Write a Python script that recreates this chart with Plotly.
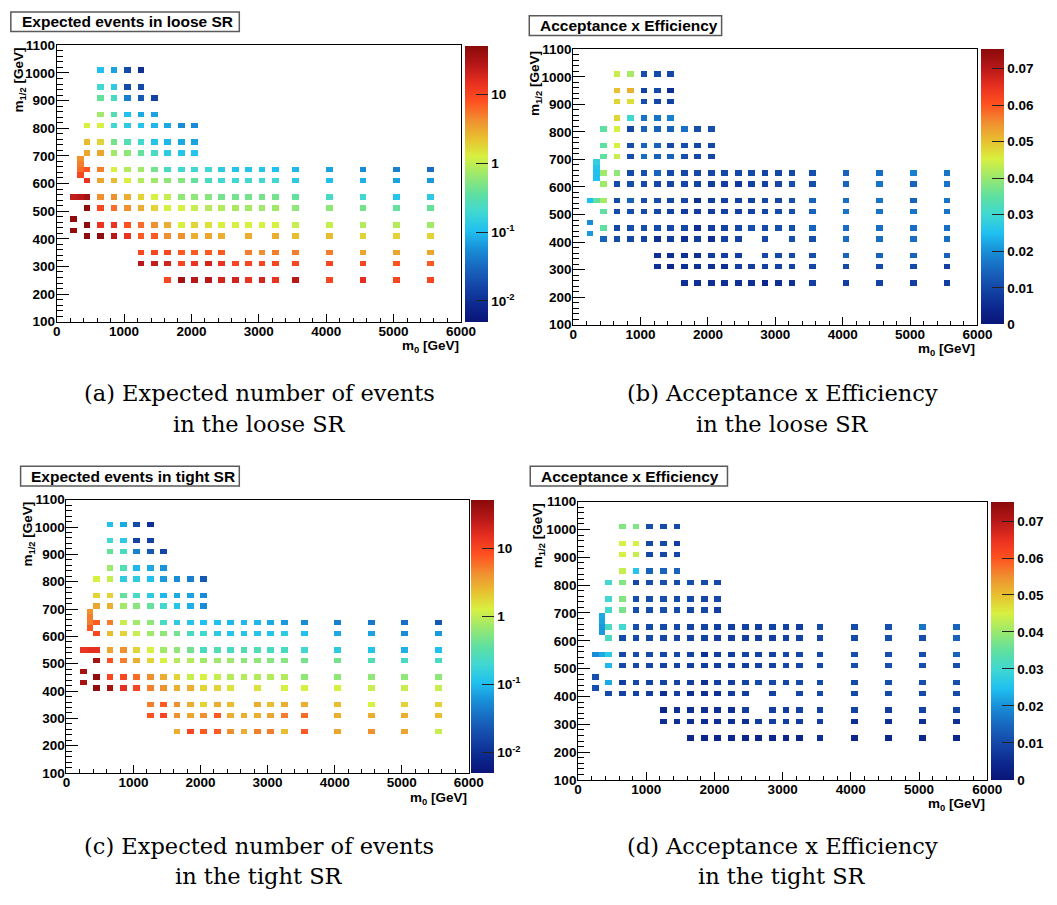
import math
import plotly.graph_objects as go

W, H = 1057, 905
_ = None

# bin centres of the populated cells (GeV)
M0_CENTERS = [250, 350, 450, 650, 850, 1050, 1250, 1450, 1650, 1850, 2050,
              2250, 2450, 2650, 2850, 3050, 3250, 3550, 4050, 4550, 5050, 5550]
M12_CENTERS = [1010, 950, 910, 850, 810, 750, 710, 690, 670, 650, 630, 610,
               550, 510, 470, 450, 430, 410, 350, 310, 250]
M0_BIN, M12_BIN = 100, 20


def pad(vals):
    return vals + [None] * (len(M0_CENTERS) - len(vals))


loose_events = [
    pad([_, _, _, 0.105, 0.073, 0.018, 0.0105]),
    pad([_, _, _, 0.20, 0.139, 0.018, 0.018]),
    pad([_, _, _, 0.385, 0.24, 0.046, 0.024, 0.015]),
    pad([_, _, _, 0.73, 0.29, 0.105, 0.08, 0.073]),
    pad([_, _, 1.28, 1.28, 0.20, 0.139, 0.116, 0.096, 0.08, 0.055, 0.055]),
    pad([_, _, 2.44, 1.84, 0.46, 0.29, 0.20, 0.116, 0.096, 0.08, 0.073]),
    pad([_, _, 3.2, 3.2, 0.73, 0.61, 0.385, 0.24, 0.139, 0.116, 0.116]),
    pad([_, 4.2]),
    pad([_, 5.1]),
    [_, 6.1, 8.1, 5.1, 1.28, 0.88, 0.73, 0.46, 0.24, 0.20, 0.20, 0.20, 0.139, 0.116, 0.116, 0.116, 0.105, 0.096, 0.073, 0.055, 0.046, 0.035],
    pad([_, 9.7]),
    [_, _, 14, 3.2, 2.4, 1.28, 0.88, 0.73, 0.61, 0.56, 0.385, 0.24, 0.20, 0.20, 0.20, 0.20, 0.20, 0.139, 0.105, 0.088, 0.073, 0.066],
    [24, 27, 35, 4.2, 4.2, 2.9, 1.84, 1.28, 1.06, 0.61, 0.61, 0.56, 0.46, 0.46, 0.46, 0.46, 0.46, 0.385, 0.24, 0.20, 0.116, 0.139],
    [_, _, 47, 9.7, 6.1, 4.2, 2.9, 1.84, 1.28, 1.28, 1.06, 0.88, 0.88, 0.80, 0.73, 0.73, 0.73, 0.61, 0.61, 0.46, 0.385, 0.385],
    pad([47]),
    [_, _, 47, 14, 14, 8.1, 6.1, 4.2, 2.9, 1.28, 1.84, 1.54, 1.28, 1.28, 1.28, 1.28, 1.28, 1.06, 1.06, 0.88, 0.88, 0.73],
    pad([47]),
    [_, _, 47, 47, 27, 14, 7.4, 7.4, 4.2, 4.2, 2.9, 3.2, 2.9, _, 2.9, _, 2.9, 2.4, 2.4, 1.84, 1.84, 1.84],
    [_, _, _, _, _, _, 9.7, 9.7, 9.7, 7.4, 7.4, 7.4, 7.4, _, 5.1, 4.2, 5.1, 5.1, 5.1, 3.2, 3.2, 3.2],
    [_, _, _, _, _, _, 27, 24, 20, 9.7, 14, 20, 14, 9.7, 9.7, 9.7, 9.7, 9.7, 9.7, 9.7, 8.1, 7.4],
    [_, _, _, _, _, _, _, _, 9.7, 35, 27, 27, 20, 20, 14, 20, 14, 27, 9.7, 15, 9.7, 9.7],
]

loose_acceff = [
    pad([_, _, _, 0.0436, 0.041, 0.011, 0.0105, 0.0098]),
    pad([_, _, _, 0.050, 0.0515, 0.009, 0.0105, 0.006]),
    pad([_, _, _, 0.048, 0.047, 0.011, 0.0098, 0.009]),
    pad([_, _, _, 0.048, 0.030, 0.0165, 0.0165, 0.018]),
    pad([_, _, 0.035, 0.045, 0.0098, 0.0143, 0.0143, 0.0143, 0.0158, 0.011, 0.011]),
    pad([_, _, 0.035, 0.045, 0.011, 0.0143, 0.0143, 0.0105, 0.011, 0.0098, 0.0098]),
    pad([_, _, 0.035, 0.0436, 0.011, 0.0158, 0.0143, 0.0143, 0.011, 0.0098, 0.0098]),
    pad([_, 0.028]),
    pad([_, 0.026]),
    [_, 0.025, 0.0406, 0.039, 0.0105, 0.011, 0.0143, 0.0105, 0.0098, 0.0098, 0.0098, 0.0098, 0.0098, 0.0098, 0.009, 0.0098, 0.0098, 0.011, 0.0143, 0.0158, 0.018, 0.0165],
    pad([_, 0.025]),
    [_, _, 0.0406, 0.0105, 0.011, 0.0105, 0.0098, 0.0098, 0.0098, 0.009, 0.0083, 0.0083, 0.0075, 0.009, 0.009, 0.0098, 0.011, 0.011, 0.0143, 0.0165, 0.0143, 0.0165],
    [0.0248, 0.035, 0.041, 0.0105, 0.0143, 0.011, 0.011, 0.0098, 0.0098, 0.006, 0.0083, 0.009, 0.009, 0.009, 0.0098, 0.0098, 0.011, 0.0143, 0.0158, 0.0165, 0.0143, 0.0165],
    [_, _, 0.035, 0.0105, 0.011, 0.0105, 0.0098, 0.009, 0.0083, 0.0083, 0.0083, 0.009, 0.009, 0.009, 0.0098, 0.0105, 0.011, 0.0143, 0.0165, 0.0165, 0.0165, 0.0165],
    pad([0.0195]),
    [_, _, 0.035, 0.0098, 0.011, 0.011, 0.0105, 0.0098, 0.0098, 0.006, 0.0083, 0.009, 0.0098, 0.011, 0.0105, 0.011, 0.011, 0.0143, 0.0158, 0.0158, 0.0158, 0.0158],
    pad([0.021]),
    [_, _, 0.0143, 0.0105, 0.0098, 0.009, 0.006, 0.0083, 0.006, 0.0083, 0.006, 0.009, 0.009, _, 0.0098, _, 0.011, 0.011, 0.0158, 0.0158, 0.0158, 0.0158],
    [_, _, _, _, _, _, 0.006, 0.006, 0.006, 0.006, 0.0083, 0.0083, 0.0083, _, 0.0098, 0.0105, 0.0105, 0.011, 0.0143, 0.0143, 0.0143, 0.0143],
    [_, _, _, _, _, _, 0.006, 0.004, 0.006, 0.006, 0.006, 0.006, 0.0083, 0.0083, 0.0083, 0.009, 0.009, 0.0098, 0.0105, 0.0105, 0.0105, 0.0083],
    [_, _, _, _, _, _, _, _, 0.006, 0.006, 0.006, 0.006, 0.006, 0.006, 0.004, 0.006, 0.006, 0.0083, 0.0083, 0.009, 0.0083, 0.0083],
]

tight_events = [
    pad([_, _, _, 0.105, 0.080, 0.018, 0.0105]),
    pad([_, _, _, 0.20, 0.139, 0.015, 0.015]),
    pad([_, _, _, 0.385, 0.24, 0.046, 0.024, 0.016]),
    pad([_, _, _, 0.73, 0.29, 0.096, 0.08, 0.06]),
    pad([_, _, 1.28, 1.06, 0.139, 0.139, 0.105, 0.066, 0.055, 0.046, 0.024]),
    pad([_, _, 1.84, 1.84, 0.385, 0.24, 0.139, 0.096, 0.08, 0.073, 0.055]),
    pad([_, _, 3.2, 2.9, 0.73, 0.56, 0.385, 0.20, 0.116, 0.088, 0.055]),
    pad([_, 4.2]),
    pad([_, 5.1]),
    [_, 5.1, 7.4, 5.1, 1.06, 0.73, 0.61, 0.24, 0.139, 0.116, 0.105, 0.105, 0.096, 0.096, 0.096, 0.080, 0.066, 0.055, 0.046, 0.040, 0.035, 0.024],
    pad([_, 7.4]),
    [_, _, 9.7, 2.4, 1.84, 1.06, 0.73, 0.61, 0.46, 0.24, 0.20, 0.139, 0.116, 0.116, 0.116, 0.116, 0.139, 0.105, 0.080, 0.073, 0.055, 0.066],
    [14, 15, 15, 3.2, 4.2, 1.84, 1.28, 0.73, 0.61, 0.46, 0.24, 0.29, 0.24, 0.29, 0.29, 0.24, 0.24, 0.20, 0.139, 0.116, 0.088, 0.105],
    [_, _, 35, 8.1, 5.1, 2.9, 1.84, 1.28, 0.88, 0.88, 0.73, 0.73, 0.73, 0.61, 0.61, 0.56, 0.56, 0.46, 0.46, 0.29, 0.24, 0.24],
    pad([35]),
    [_, _, 47, 9.7, 9.7, 6.1, 4.2, 2.9, 1.84, 1.06, 1.28, 1.06, 0.88, 0.88, 0.88, 0.88, 0.88, 0.61, 0.61, 0.61, 0.61, 0.61],
    pad([35]),
    [_, _, 47, 35, 15, 9.7, 5.1, 4.2, 2.9, 2.9, 1.84, 1.84, 1.54, _, 1.54, _, 1.28, 1.28, 1.28, 1.06, 1.06, 1.06],
    [_, _, _, _, _, _, 5.1, 7.4, 4.2, 2.9, 1.84, 2.9, 2.4, _, 2.9, 2.4, 2.9, 2.9, 2.4, 1.28, 1.84, 1.84],
    [_, _, _, _, _, _, 8.1, 9.7, 4.2, 3.2, 4.2, 7.4, 2.9, 2.9, 2.9, 3.2, 5.1, 6.1, 2.9, 2.9, 2.9, 2.4],
    [_, _, _, _, _, _, _, _, 2.9, 9.7, 7.4, 7.4, 4.2, 2.9, 5.1, 5.1, 2.4, 7.4, 3.2, 4.2, 3.2, 1.06],
]

tight_acceff = [
    pad([_, _, _, 0.038, 0.0376, 0.011, 0.0105, 0.0105]),
    pad([_, _, _, 0.045, 0.045, 0.0098, 0.0105, 0.0083]),
    pad([_, _, _, 0.045, 0.0436, 0.0098, 0.0098, 0.0098]),
    pad([_, _, _, 0.0436, 0.0256, 0.0143, 0.0143, 0.0143]),
    pad([_, _, 0.030, 0.038, 0.0098, 0.011, 0.011, 0.0105, 0.011, 0.0105, 0.0098]),
    pad([_, _, 0.030, 0.038, 0.011, 0.011, 0.011, 0.0105, 0.0105, 0.0098, 0.0098]),
    pad([_, _, 0.030, 0.037, 0.011, 0.011, 0.011, 0.0105, 0.0098, 0.0098, 0.0083]),
    pad([_, 0.0226]),
    pad([_, 0.022]),
    [_, 0.021, 0.0316, 0.030, 0.011, 0.0105, 0.0105, 0.0098, 0.009, 0.009, 0.0083, 0.0083, 0.009, 0.0083, 0.009, 0.009, 0.0083, 0.0105, 0.0105, 0.011, 0.0165, 0.0143],
    pad([_, 0.021]),
    [_, _, 0.0316, 0.0105, 0.0105, 0.0105, 0.0098, 0.0098, 0.009, 0.009, 0.0083, 0.0083, 0.0083, 0.0083, 0.0083, 0.009, 0.009, 0.0098, 0.0105, 0.011, 0.011, 0.0143],
    [0.0195, 0.0226, 0.027, 0.0098, 0.011, 0.0105, 0.0098, 0.0098, 0.009, 0.006, 0.0083, 0.0083, 0.009, 0.009, 0.009, 0.0098, 0.0098, 0.0105, 0.011, 0.011, 0.011, 0.0143],
    [_, _, 0.024, 0.0098, 0.0105, 0.0098, 0.009, 0.009, 0.0083, 0.0083, 0.0083, 0.0083, 0.0083, 0.009, 0.009, 0.0098, 0.0098, 0.0105, 0.011, 0.011, 0.011, 0.011],
    pad([0.011]),
    [_, _, 0.0226, 0.0083, 0.0098, 0.009, 0.009, 0.009, 0.0083, 0.006, 0.0083, 0.0083, 0.009, 0.0105, 0.0098, 0.0098, 0.0105, 0.0105, 0.0105, 0.011, 0.011, 0.011],
    pad([0.011]),
    [_, _, 0.0105, 0.009, 0.009, 0.0083, 0.006, 0.0083, 0.006, 0.006, 0.006, 0.0083, 0.0083, _, 0.009, _, 0.0098, 0.0105, 0.0105, 0.0105, 0.0105, 0.0105],
    [_, _, _, _, _, _, 0.004, 0.006, 0.006, 0.006, 0.006, 0.006, 0.0083, _, 0.0083, 0.0083, 0.009, 0.009, 0.009, 0.0083, 0.009, 0.009],
    [_, _, _, _, _, _, 0.006, 0.006, 0.006, 0.006, 0.006, 0.006, 0.006, 0.0083, 0.0083, 0.0083, 0.0083, 0.0083, 0.006, 0.006, 0.006, 0.006],
    [_, _, _, _, _, _, _, _, 0.004, 0.004, 0.004, 0.004, 0.004, 0.004, 0.004, 0.004, 0.004, 0.006, 0.004, 0.004, 0.004, 0.004],
]

LOG_TICKS = [0.01, 0.1, 1, 10]
LOG_TICK_TEXT = ['10<sup>-2</sup>', '10<sup>-1</sup>', '1', '10']
LIN_TICKS = [0, 0.01, 0.02, 0.03, 0.04, 0.05, 0.06, 0.07]
LIN_TICK_TEXT = ['0', '0.01', '0.02', '0.03', '0.04', '0.05', '0.06', '0.07']

# ROOT-like rainbow palette
PALETTE = [
    [0.0, '#0a1478'], [0.066, '#0c2a90'], [0.133, '#1448a8'], [0.2, '#1868c0'],
    [0.266, '#1890d8'], [0.33, '#20c0f0'], [0.4, '#40d8d0'], [0.465, '#60e0a0'],
    [0.53, '#98e870'], [0.6, '#d8f040'], [0.665, '#e8c030'], [0.73, '#f09030'],
    [0.8, '#ff5020'], [0.865, '#e83020'], [0.93, '#b81818'], [1.0, '#8a0a0a'],
]

LOG_RANGE = (-2.30, 1.71)
LIN_RANGE = (0.0, 0.0752)

panels = [
    dict(data=loose_events, log=True, frame=(54, 468, 39, 320), cb=(472, 495),
         box=(7, 241, 5, 25), title='Expected events in loose SR',
         ytx=16, xty=345, cap_x=262, cap_y=(393, 424),
         cap=('(a) Expected number of events', 'in the loose SR')),
    dict(data=loose_acceff, log=False, frame=(583, 997, 43, 323), cb=(1001, 1024),
         box=(538, 735, 9, 29), title='Acceptance x Efficiency',
         ytx=545, xty=348, cap_x=797, cap_y=(393, 424),
         cap=('(b) Acceptance x Efficiency', 'in the loose SR')),
    dict(data=tight_events, log=True, frame=(64, 476, 501, 779), cb=(478, 501),
         box=(17, 241, 467, 487), title='Expected events in tight SR',
         ytx=25, xty=805, cap_x=261, cap_y=(853, 884),
         cap=('(c) Expected number of events', 'in the tight SR')),
    dict(data=tight_acceff, log=False, frame=(588, 1007, 503, 786), cb=(1011, 1034),
         box=(539, 741, 467, 487), title='Acceptance x Efficiency',
         ytx=547, xty=811, cap_x=797, cap_y=(853, 884),
         cap=('(d) Acceptance x Efficiency', 'in the tight SR')),
]

BOLD = dict(family='Liberation Sans, Arial, sans-serif', color='black', weight='bold')


def font(size, **kw):
    d = dict(BOLD)
    d['size'] = size
    d.update(kw)
    return d


def px_x(v):
    return v / W


def px_y(v):
    return 1 - v / H


fig = go.Figure()
layout = dict(width=W, height=H, margin=dict(l=0, r=0, t=0, b=0),
              paper_bgcolor='white', plot_bgcolor='white', showlegend=False)
shapes, annotations = [], []

nx, ny = 6000 // M0_BIN, 1000 // M12_BIN
for i, p in enumerate(panels, start=1):
    sfx = '' if i == 1 else str(i)
    grid = [[None] * nx for _r in range(ny)]
    for yi, yc in enumerate(M12_CENTERS):
        row = p['data'][yi]
        assert len(row) == len(M0_CENTERS)
        for xi, xc in enumerate(M0_CENTERS):
            v = row[xi]
            if v is None:
                continue
            gx = int(xc // M0_BIN)
            gy = int((yc - 100) // M12_BIN)
            grid[gy][gx] = math.log10(v) if p['log'] else v

    l, r, t, b = p['frame']
    cl, cr = p['cb']
    if p['log']:
        zmin, zmax = LOG_RANGE
        tv = [math.log10(v) for v in LOG_TICKS]
        tt = LOG_TICK_TEXT
    else:
        zmin, zmax = LIN_RANGE
        tv, tt = LIN_TICKS, LIN_TICK_TEXT

    fig.add_trace(go.Heatmap(
        z=grid, x0=M0_BIN / 2, dx=M0_BIN, y0=100 + M12_BIN / 2, dy=M12_BIN,
        xaxis='x' + sfx, yaxis='y' + sfx, colorscale=PALETTE, zmin=zmin, zmax=zmax,
        hoverinfo='skip', zsmooth=False,
        colorbar=dict(x=px_x(cl), xanchor='left', xpad=0,
                      y=(px_y(t) + px_y(b)) / 2, yanchor='middle', len=(b - t) / H,
                      lenmode='fraction', ypad=0, thickness=cr - cl, thicknessmode='pixels',
                      outlinewidth=0, ticks='inside', ticklen=12, tickwidth=1,
                      tickcolor='#222222', tickvals=tv, ticktext=tt,
                      tickfont=font(13.5)),
    ))

    layout['xaxis' + sfx] = dict(
        domain=[px_x(l), px_x(r)], anchor='y' + sfx, range=[0, 6000],
        tickmode='linear', tick0=0, dtick=1000, ticks='inside', ticklen=8,
        tickwidth=1, tickcolor='black', ticklabelstandoff=-3,
        minor=dict(tickmode='linear', tick0=0, dtick=200, ticks='inside', ticklen=4,
                   tickwidth=1, tickcolor='black'),
        showline=True, mirror=True, linecolor='black', linewidth=1,
        showgrid=False, zeroline=False, tickfont=font(13.5), fixedrange=True)
    layout['yaxis' + sfx] = dict(
        domain=[px_y(b), px_y(t)], anchor='x' + sfx, range=[100, 1100],
        tickmode='linear', tick0=100, dtick=100, ticks='inside', ticklen=12,
        tickwidth=1, tickcolor='black', ticklabelstandoff=-2,
        minor=dict(tickmode='linear', tick0=100, dtick=20, ticks='inside', ticklen=6,
                   tickwidth=1, tickcolor='black'),
        showline=True, mirror=True, linecolor='black', linewidth=1,
        showgrid=False, zeroline=False, tickfont=font(13.5), fixedrange=True)

    if p['log']:
        minors = []
        for e in range(-3, 2):
            for m in range(2, 10):
                v = math.log10(m * 10 ** e)
                if zmin < v < zmax:
                    minors.append(v)
        layout['yaxis' + str(4 + i)] = dict(
            overlaying='y' + sfx, anchor='free', position=px_x(cr), side='right',
            range=[zmin, zmax], tickmode='array', tickvals=[], ticks='',
            showticklabels=False, showgrid=False, zeroline=False, showline=False,
            minor=dict(tickmode='array', tickvals=minors, ticks='inside', ticklen=6,
                       tickwidth=1, tickcolor='#222222', showgrid=False),
            fixedrange=True)

    bl, br, bt, bb = p['box']
    shapes.append(dict(type='rect', xref='paper', yref='paper',
                       x0=px_x(bl), x1=px_x(br), y0=px_y(bb), y1=px_y(bt),
                       line=dict(color='#5a5a5a', width=1.5), fillcolor='white'))
    annotations.append(dict(xref='paper', yref='paper', x=px_x(bl + 9), y=px_y((bt + bb) / 2),
                            xanchor='left', yanchor='middle', showarrow=False,
                            text=p['title'], font=font(15.5)))
    annotations.append(dict(xref='paper', yref='paper', x=px_x(p['ytx']), y=px_y(t),
                            xanchor='center', yanchor='top', showarrow=False, textangle=-90,
                            text='m<sub>1/2</sub> [GeV]', font=font(13.5)))
    annotations.append(dict(xref='paper', yref='paper', x=px_x(r), y=px_y(p['xty']),
                            xanchor='right', yanchor='middle', showarrow=False,
                            text='m<sub>0</sub> [GeV]', font=font(13.5)))
    for line, cy in zip(p['cap'], p['cap_y']):
        annotations.append(dict(xref='paper', yref='paper', x=px_x(p['cap_x']), y=px_y(cy),
                                xanchor='center', yanchor='middle', showarrow=False,
                                text=line,
                                font=dict(family='DejaVu Serif, serif', size=22.5, color='black')))

layout['shapes'] = shapes
layout['annotations'] = annotations
fig.update_layout(**layout)
fig.write_html('out.html')
